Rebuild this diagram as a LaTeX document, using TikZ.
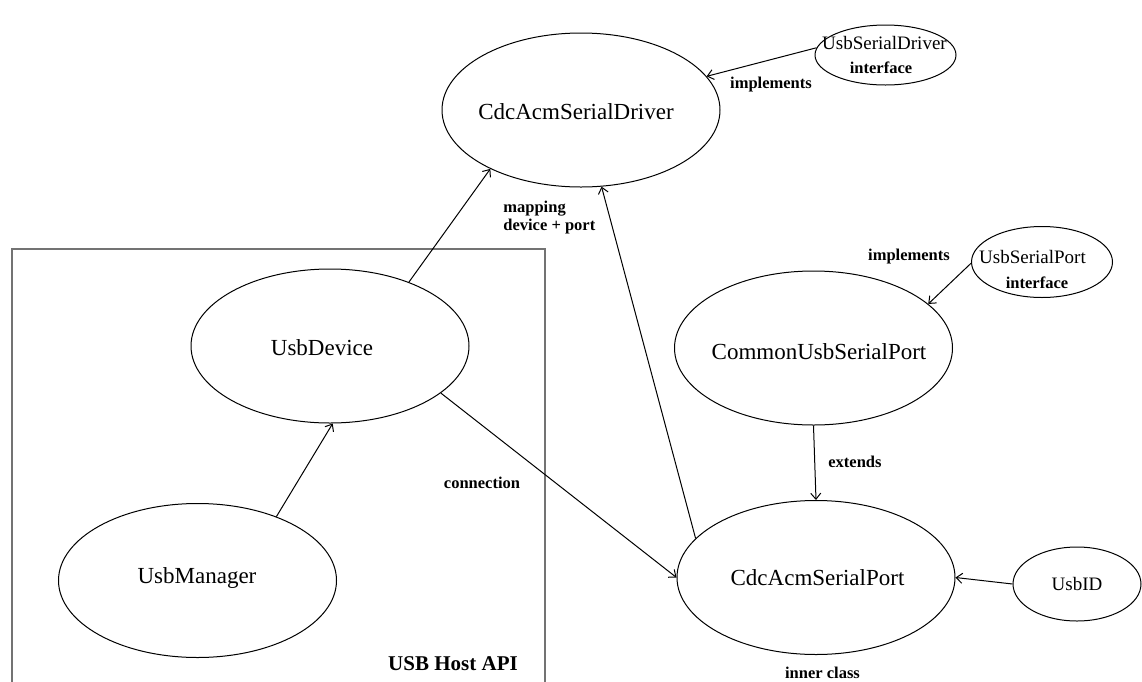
\documentclass[tikz,border=0pt]{standalone}
\usepackage{fontspec}
\setmainfont{Liberation Serif}
\usetikzlibrary{shapes.geometric,arrows.meta}

% type sizes: class names, interface names, edge labels, group caption
\newcommand\clsfont{\fontsize{11.5}{13}\selectfont}
\newcommand\ifcfont{\fontsize{9.5}{11}\selectfont}
\newcommand\lblfont{\fontsize{8.25}{9}\selectfont\bfseries}
\newcommand\grpfont{\fontsize{10.5}{12}\selectfont\bfseries}

\begin{document}
\begin{tikzpicture}[x=0.5pt,y=-0.5pt,
  ent/.style={draw, ellipse, inner sep=0pt, line width=0.5pt},
  big/.style={ent, minimum width=139pt, minimum height=77pt},
  clsname/.style={inner sep=0pt, font=\clsfont},
  ifcname/.style={inner sep=0pt, font=\ifcfont},
  lbl/.style={inner sep=0pt, font=\lblfont, anchor=base},
  conn/.style={line width=0.5pt, -{Straight Barb[length=3pt,width=5pt]}},
  plain/.style={line width=0.5pt},
  grp/.style={draw=black!55, line width=0.75pt}]

\useasboundingbox (0,0) rectangle (1142,681);

% USB Host API group frame (open at the bottom edge)
\draw[grp] (12,700) -- (12,249) -- (545,249) -- (545,700);
\node[inner sep=0pt, font=\grpfont, anchor=base] (grplbl) at (453,670) {USB Host API};

% entities
\node[big] (drv) at (581,110) {};
\node[clsname] (drvtxt) at (576,112) {CdcAcmSerialDriver};

\node[big] (dev) at (330,346) {};
\node[clsname] (devtxt) at (322,348) {UsbDevice};

\node[big] (mgr) at (197.5,580.5) {};
\node[clsname] (mgrtxt) at (197,578) {UsbManager};

\node[big] (com) at (813.5,348) {};
\node[clsname] (comtxt) at (819,352) {CommonUsbSerialPort};

\node[big] (port) at (816,577.5) {};
\node[clsname] (porttxt) at (817.5,578) {CdcAcmSerialPort};

\node[ent, minimum width=70.5pt, minimum height=30pt] (usd) at (885.5,55) {};
\node[ifcname] (usdtxt) at (884.5,43) {UsbSerialDriver};
\node[lbl] (usdifc) at (881,73) {interface};

\node[ent, minimum width=70.5pt, minimum height=35.5pt] (usp) at (1042,262) {};
\node[ifcname] (usptxt) at (1032.5,257) {UsbSerialPort};
\node[lbl] (uspifc) at (1037,288) {interface};

\node[ent, minimum width=64pt, minimum height=37pt] (uid) at (1077,584) {};
\node[ifcname] (uidtxt) at (1077,584) {UsbID};

% relations
\draw[conn] (usd.174) -- (drv.15);
\draw[conn] (usp.181) -- (com.21);
\draw[conn] (dev.39) -- (drv.213.5);
\draw[conn] (port.162) -- (drv.-75);
\draw[conn] (mgr.39) -- (dev.-88);
\draw[conn] (dev.-23) -- (port.180);
\draw[conn] (com.-90) -- (port.90);
\draw[conn] (uid.180) -- (port.0);

% edge labels
\node[lbl] (l1) at (771,88) {implements};
\node[lbl] (l2) at (909,260) {implements};
\node[lbl, anchor=west, align=left] (l3) at (503,218) {mapping\\device + port};
\node[lbl] (l4) at (482,488) {connection};
\node[lbl] (l5) at (855,467) {extends};
\node[lbl] (l6) at (822.5,678) {inner class};
\end{tikzpicture}
\end{document}
